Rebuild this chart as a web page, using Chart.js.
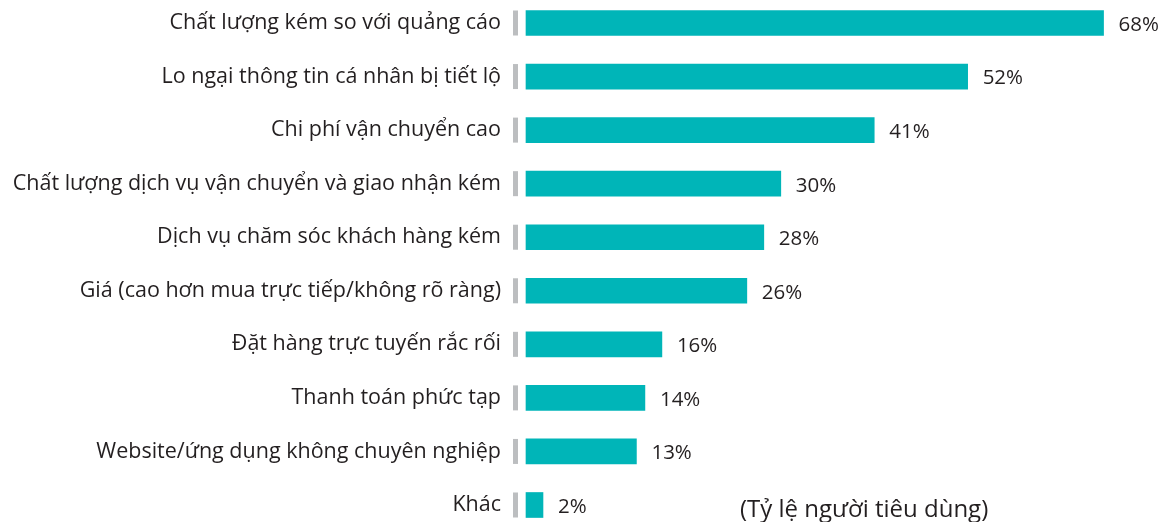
<!DOCTYPE html>
<html lang="vi">
<head>
    <meta charset="UTF-8">
    <title>Lý do không mua sắm trực tuyến</title>
    <script src="https://cdn.jsdelivr.net/npm/chart.js"></script>
    <style>
        html, body { margin: 0; padding: 0; background: #fff; }
        .wrap { position: relative; width: 1166px; height: 522px; }
        .note {
            position: absolute; left: 740px; top: 491px;
            font-family: "Open Sans", sans-serif; font-size: 24px; color: #231f20;
        }
    </style>
</head>
<body>
    <div class="wrap">
        <canvas id="chart" width="1166" height="522"></canvas>
        <div class="note">(Tỷ lệ người tiêu dùng)</div>
    </div>

    <script>
        const reasons = [
            'Chất lượng kém so với quảng cáo',
            'Lo ngại thông tin cá nhân bị tiết lộ',
            'Chi phí vận chuyển cao',
            'Chất lượng dịch vụ vận chuyển và giao nhận kém',
            'Dịch vụ chăm sóc khách hàng kém',
            'Giá (cao hơn mua trực tiếp/không rõ ràng)',
            'Đặt hàng trực tuyến rắc rối',
            'Thanh toán phức tạp',
            'Website/ứng dụng không chuyên nghiệp',
            'Khác'
        ];
        const shares = [68, 52, 41, 30, 28, 26, 16, 14, 13, 2];

        const FONT = '"Open Sans", sans-serif';
        const TEXT = '#231f20';

        // grey marker in front of each bar + the percentage after it
        const barDecor = {
            id: 'barDecor',
            afterDatasetsDraw(chart) {
                const ctx = chart.ctx;
                const meta = chart.getDatasetMeta(0);
                const x0 = chart.scales.x.getPixelForValue(0);
                ctx.save();
                meta.data.forEach((bar, i) => {
                    const h = bar.height;
                    ctx.fillStyle = '#bcbec0';
                    ctx.fillRect(x0 - 13, bar.y - h / 2, 5, h);
                    ctx.fillStyle = TEXT;
                    ctx.font = '20.5px ' + FONT;
                    ctx.textAlign = 'left';
                    ctx.textBaseline = 'middle';
                    ctx.fillText(shares[i] + '%', bar.x + 15, bar.y + 2);
                });
                ctx.restore();
            }
        };

        new Chart(document.getElementById('chart'), {
            type: 'bar',
            data: {
                labels: reasons,
                datasets: [{
                    data: shares,
                    backgroundColor: '#00b5b8',
                    barThickness: 25,
                    clip: false
                }]
            },
            options: {
                indexAxis: 'y',
                responsive: false,
                animation: false,
                layout: { padding: { top: 23, bottom: 17, right: 3 } },
                plugins: { legend: { display: false }, tooltip: { enabled: false } },
                scales: {
                    x: {
                        display: false,
                        min: 0,
                        max: 75
                    },
                    y: {
                        offset: false,
                        grid: { display: false },
                        border: { display: false },
                        afterFit(scale) {
                            scale.width = 526;
                            // first/last rows sit on the area edges; no extra room for label halves
                            scale.paddingTop = 0;
                            scale.paddingBottom = 0;
                        },
                        ticks: {
                            color: TEXT,
                            padding: 17,
                            font: { family: FONT, size: 21.5 }
                        }
                    }
                }
            },
            plugins: [barDecor]
        });
    </script>
</body>
</html>
